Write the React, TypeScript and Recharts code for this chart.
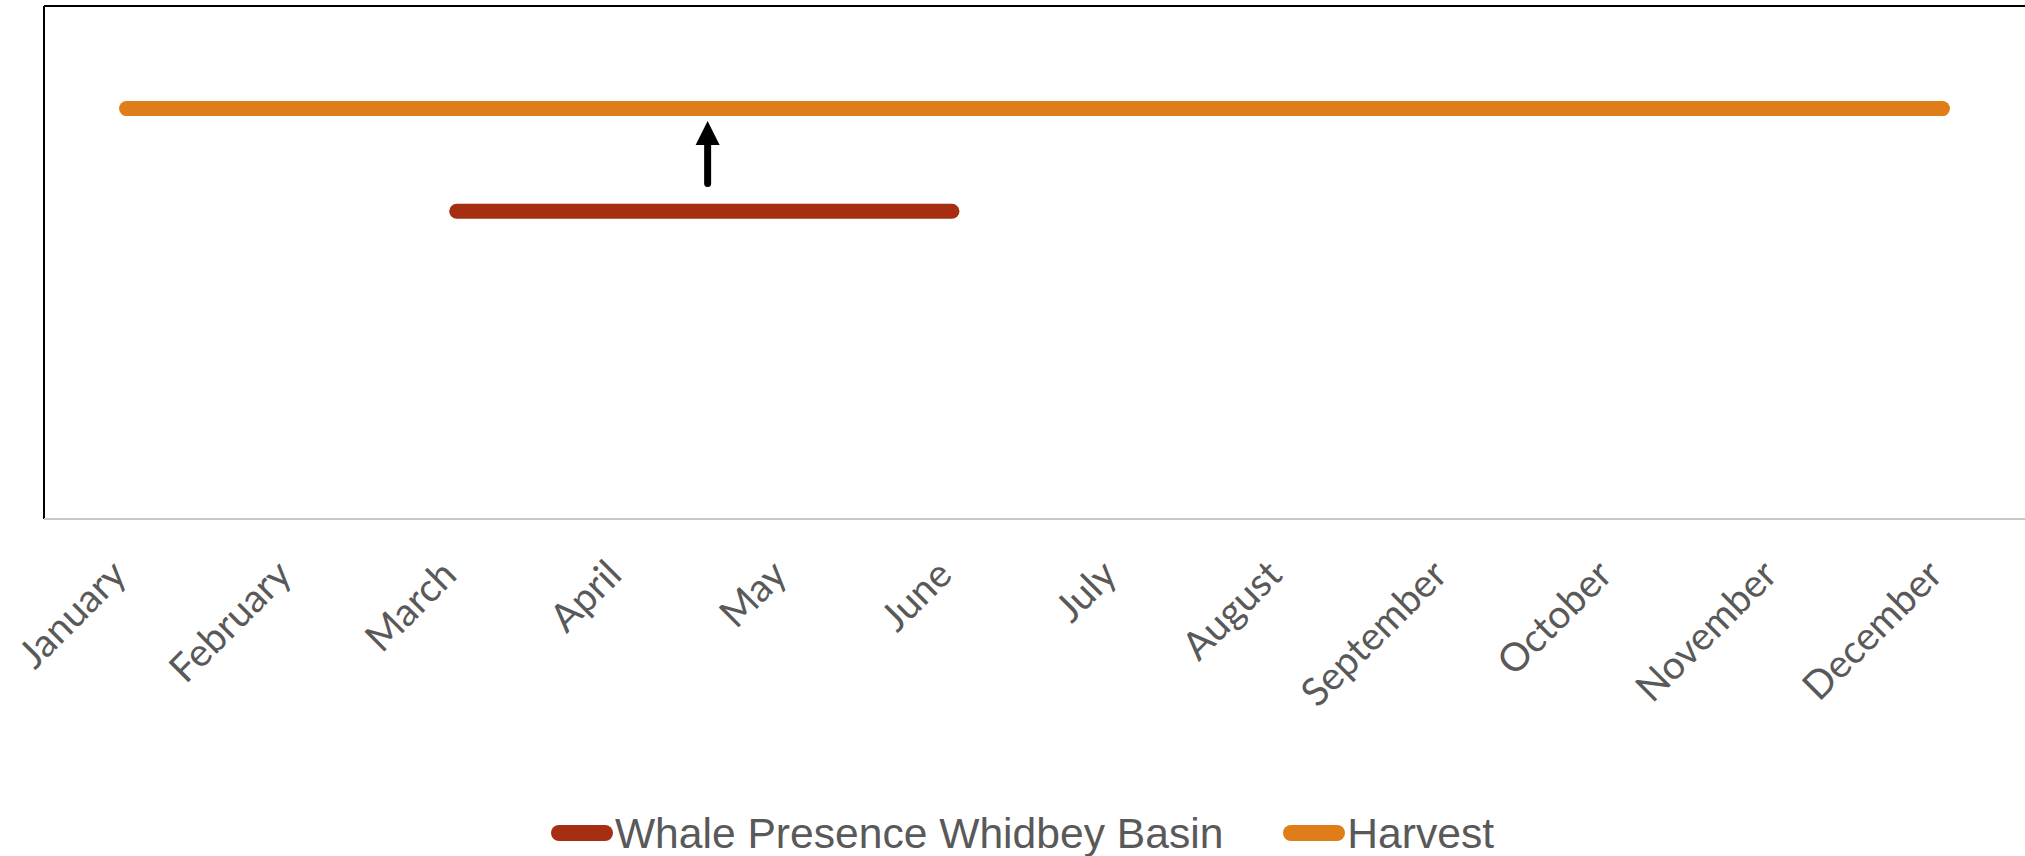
import React from 'react';
import { LineChart, Line, XAxis, YAxis, ReferenceLine, Legend } from 'recharts';

const months = ['January', 'February', 'March', 'April', 'May', 'June', 'July', 'August', 'September', 'October', 'November', 'December'];
const harvest = [4, 4, 4, 4, 4, 4, 4, 4, 4, 4, 4, 4];
const whale = [null, null, 3, 3, 3, 3, null, null, null, null, null, null];
const arrowX = 3.52;
const arrowFrom = 3.27;
const arrowTo = 3.88;
const xDomain: [number, number] = [-0.5, 11.5];
const yDomain: [number, number] = [0, 5];

const seriesNames = ['Whale Presence Whidbey Basin', 'Harvest'];
const seriesColors = ['#A52F10', '#DF7E18'];

const data = months.map((m, i) => ({ x: i, month: m, harvest: harvest[i], whale: whale[i] }));

const MonthTick = (props: any) => {
  const { x, y, payload } = props;
  const ax = x + 2;
  const ay = y + 58;
  return (
    <text x={ax} y={ay} transform={`rotate(-45, ${ax}, ${ay})`} textAnchor="end" fill="#595959" fontSize={39} fontFamily="Lato, 'DejaVu Sans', sans-serif">
      {months[payload.value]}
    </text>
  );
};

const ArrowShape = (props: any) => {
  const { x1, y1, x2, y2 } = props;
  const tipY = Math.min(y1, y2);
  const tailY = Math.max(y1, y2);
  const x = x1;
  const headH = 24;
  const headW = 12;
  return (
    <g>
      <line x1={x} y1={tailY} x2={x} y2={tipY + headH - 2} stroke="#000" strokeWidth={7} strokeLinecap="round" />
      <polygon points={`${x},${tipY} ${x - headW},${tipY + headH} ${x + headW},${tipY + headH}`} fill="#000" />
    </g>
  );
};

const LegendContent = () => (
  <div style={{ display: 'flex', justifyContent: 'center', alignItems: 'center', height: 56, paddingLeft: 20, fontFamily: "'Liberation Sans', Arial, sans-serif", fontSize: 42.6, lineHeight: '42px', color: '#595959' }}>
    {seriesNames.map((n, i) => (
      <div key={n} style={{ display: 'flex', alignItems: 'center', marginLeft: i === 0 ? 0 : 60 }}>
        <svg width={62} height={22} style={{ display: 'block' }}>
          <line x1={8} y1={11} x2={54} y2={11} stroke={seriesColors[i]} strokeWidth={16} strokeLinecap="round" />
        </svg>
        <span style={{ marginLeft: 2 }}>{n}</span>
      </div>
    ))}
  </div>
);

export default function App() {
  return (
    <div style={{ position: 'absolute', left: 0, top: 0, width: 2025, height: 856, background: '#fff' }}>
      <LineChart width={2025} height={856} data={data} margin={{ top: 6, right: 0, bottom: 0, left: 44 }}>
        <XAxis
          dataKey="x"
          type="number"
          domain={xDomain}
          ticks={[0, 1, 2, 3, 4, 5, 6, 7, 8, 9, 10, 11]}
          interval={0}
          tick={<MonthTick />}
          tickLine={false}
          tickSize={0}
          tickMargin={0}
          axisLine={{ stroke: '#C8C8C8', strokeWidth: 2 }}
          height={337}
        />
        <YAxis domain={yDomain} hide width={0} />
        <ReferenceLine x={xDomain[0]} stroke="#000" strokeWidth={2} ifOverflow="visible" />
        <ReferenceLine y={yDomain[1]} stroke="#000" strokeWidth={2} ifOverflow="visible" />
        <Line dataKey="whale" name={seriesNames[0]} stroke={seriesColors[0]} strokeWidth={15} strokeLinecap="round" dot={false} activeDot={false} isAnimationActive={false} />
        <Line dataKey="harvest" name={seriesNames[1]} stroke={seriesColors[1]} strokeWidth={15} strokeLinecap="round" dot={false} activeDot={false} isAnimationActive={false} />
        <ReferenceLine
          segment={[{ x: arrowX, y: arrowFrom }, { x: arrowX, y: arrowTo }]}
          shape={<ArrowShape />}
          ifOverflow="visible"
        />
        <Legend
          layout="horizontal"
          verticalAlign="middle"
          align="center"
          wrapperStyle={{ top: 805, left: 0, width: 2025, height: 56 }}
          content={<LegendContent />}
        />
      </LineChart>
    </div>
  );
}
